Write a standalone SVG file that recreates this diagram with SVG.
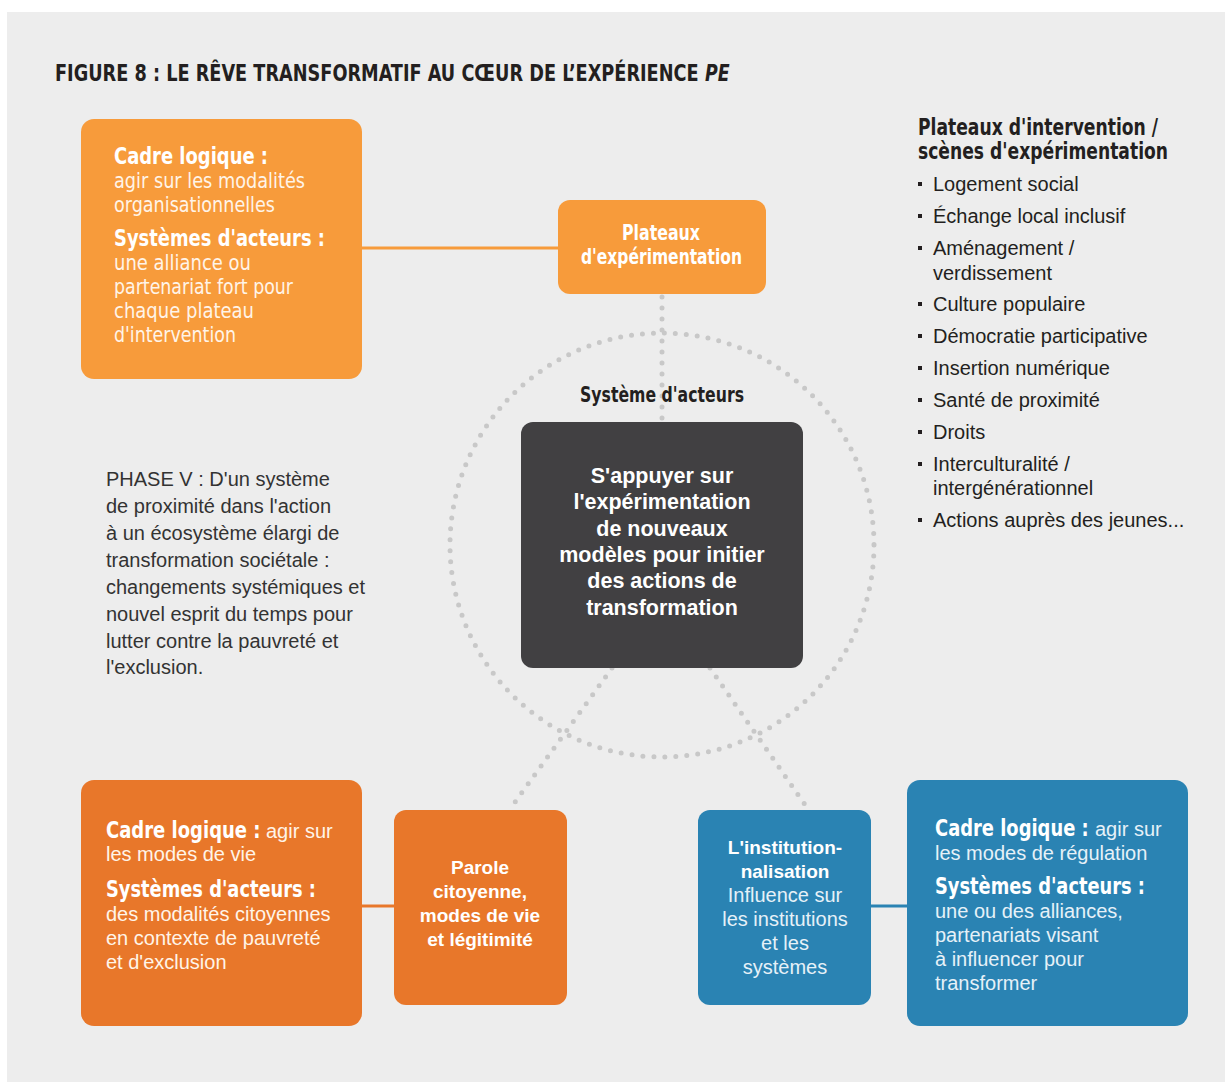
<svg xmlns="http://www.w3.org/2000/svg" width="1225" height="1082" viewBox="0 0 1225 1082">
<style>
.cb{font-family:"Liberation Sans Narrow","DejaVu Sans Condensed",sans-serif;font-weight:bold}
.cr{font-family:"Liberation Sans Narrow","DejaVu Sans Condensed",sans-serif}
.r{font-family:"Liberation Sans",Arial,sans-serif}
.b{font-family:"Liberation Sans",Arial,sans-serif;font-weight:bold}
.w{fill:#ffffff}
.lt{fill:#fff4e8}
.ltb{fill:#e6f1f8}
.dk{fill:#231f20}
.dot{fill:none;stroke:#c8c8c8;stroke-width:5;stroke-linecap:round;stroke-dasharray:0 11}
.link{stroke-width:3}
</style>
<rect x="7" y="12" width="1218" height="1070" fill="#ededed"/>
<g id="title">
  <text class="cb dk" transform="translate(55,81) scale(0.856,1)" x="0" y="0" font-size="23">FIGURE 8 : LE RÊVE TRANSFORMATIF AU CŒUR DE L’EXPÉRIENCE</text>
  <text class="cb dk" transform="translate(705,81) scale(0.84,1)" x="0" y="0" font-size="23" font-style="italic">PE</text>
</g>

<g id="connectors">
  <circle class="dot" cx="662" cy="545" r="212"/>
  <line class="dot" x1="662" y1="297" x2="662" y2="420"/>
  <line class="dot" x1="612" y1="668" x2="510" y2="809"/>
  <line class="dot" x1="710" y1="668" x2="808" y2="809"/>
  <line class="link" x1="362" y1="248" x2="558" y2="248" stroke="#f79b3b"/>
  <line class="link" x1="362" y1="906" x2="394" y2="906" stroke="#e8772a"/>
  <line class="link" x1="871" y1="906" x2="907" y2="906" stroke="#2a83b3"/>
</g>

<g id="cadre-top">
  <rect x="81" y="119" width="281" height="260" rx="13" fill="#f79b3b"/>
  <text class="cb w" x="114" y="164" font-size="23" textLength="154" lengthAdjust="spacingAndGlyphs">Cadre logique :</text>
  <text class="cr lt" x="114" y="188" font-size="21" textLength="191" lengthAdjust="spacingAndGlyphs">agir sur les modalités</text>
  <text class="cr lt" x="114" y="212" font-size="21" textLength="161" lengthAdjust="spacingAndGlyphs">organisationnelles</text>
  <text class="cb w" x="114" y="246" font-size="23" textLength="211" lengthAdjust="spacingAndGlyphs">Systèmes d'acteurs :</text>
  <text class="cr lt" x="114" y="270" font-size="21" textLength="137" lengthAdjust="spacingAndGlyphs">une alliance ou</text>
  <text class="cr lt" x="114" y="294" font-size="21" textLength="179" lengthAdjust="spacingAndGlyphs">partenariat fort pour</text>
  <text class="cr lt" x="114" y="318" font-size="21" textLength="140" lengthAdjust="spacingAndGlyphs">chaque plateau</text>
  <text class="cr lt" x="114" y="342" font-size="21" textLength="122" lengthAdjust="spacingAndGlyphs">d'intervention</text>
</g>

<g id="plateaux">
  <rect x="558" y="200" width="208" height="94" rx="12" fill="#f79b3b"/>
  <text class="cb w" x="622" y="240" font-size="21" textLength="78" lengthAdjust="spacingAndGlyphs">Plateaux</text>
  <text class="cb w" x="581" y="264" font-size="21" textLength="161" lengthAdjust="spacingAndGlyphs">d'expérimentation</text>
</g>

<g id="systeme-label">
  <text class="cb dk" x="580" y="402" font-size="21" textLength="164" lengthAdjust="spacingAndGlyphs">Système d'acteurs</text>
</g>

<g id="centre">
  <rect x="521" y="422" width="282" height="246" rx="12" fill="#414042"/>
  <text class="b w" font-size="21.5" text-anchor="middle"><tspan x="662" y="483">S'appuyer sur</tspan><tspan x="662" y="509">l'expérimentation</tspan><tspan x="662" y="536">de nouveaux</tspan><tspan x="662" y="562">modèles pour initier</tspan><tspan x="662" y="588">des actions de</tspan><tspan x="662" y="615">transformation</tspan></text>
</g>

<g id="phase">
  <text class="r" fill="#333333" font-size="20"><tspan x="106" y="486">PHASE V : D'un système</tspan><tspan x="106" y="513">de proximité dans l'action</tspan><tspan x="106" y="540">à un écosystème élargi de</tspan><tspan x="106" y="567">transformation sociétale :</tspan><tspan x="106" y="594">changements systémiques et</tspan><tspan x="106" y="621">nouvel esprit du temps pour</tspan><tspan x="106" y="648">lutter contre la pauvreté et</tspan><tspan x="106" y="674">l'exclusion.</tspan></text>
</g>

<g id="liste">
  <text class="cb dk" x="918" y="135" font-size="23" textLength="240" lengthAdjust="spacingAndGlyphs">Plateaux d'intervention /</text>
  <text class="cb dk" x="918" y="159" font-size="23" textLength="250" lengthAdjust="spacingAndGlyphs">scènes d'expérimentation</text>
  <g fill="#231f20">
    <rect x="918" y="182" width="4" height="4"/>
    <rect x="918" y="214" width="4" height="4"/>
    <rect x="918" y="246" width="4" height="4"/>
    <rect x="918" y="302" width="4" height="4"/>
    <rect x="918" y="334" width="4" height="4"/>
    <rect x="918" y="366" width="4" height="4"/>
    <rect x="918" y="398" width="4" height="4"/>
    <rect x="918" y="430" width="4" height="4"/>
    <rect x="918" y="462" width="4" height="4"/>
    <rect x="918" y="518" width="4" height="4"/>
  </g>
  <text class="r dk" font-size="20"><tspan x="933" y="191">Logement social</tspan><tspan x="933" y="223">Échange local inclusif</tspan><tspan x="933" y="255">Aménagement /</tspan><tspan x="933" y="280">verdissement</tspan><tspan x="933" y="311">Culture populaire</tspan><tspan x="933" y="343">Démocratie participative</tspan><tspan x="933" y="375">Insertion numérique</tspan><tspan x="933" y="407">Santé de proximité</tspan><tspan x="933" y="439">Droits</tspan><tspan x="933" y="471">Interculturalité /</tspan><tspan x="933" y="495">intergénérationnel</tspan><tspan x="933" y="527">Actions auprès des jeunes...</tspan></text>
</g>

<g id="cadre-vie">
  <rect x="81" y="780" width="281" height="246" rx="13" fill="#e8772a"/>
  <text class="cb w" transform="translate(106,838) scale(0.87,1)" x="0" y="0" font-size="23">Cadre logique :</text>
  <text class="r lt" x="266" y="838" font-size="20">agir sur</text>
  <text class="r lt" x="106" y="861" font-size="20">les modes de vie</text>
  <text class="cb w" x="106" y="897" font-size="23" textLength="210" lengthAdjust="spacingAndGlyphs">Systèmes d'acteurs :</text>
  <text class="r lt" font-size="20"><tspan x="106" y="921">des modalités citoyennes</tspan><tspan x="106" y="945">en contexte de pauvreté</tspan><tspan x="106" y="969">et d'exclusion</tspan></text>
</g>

<g id="parole">
  <rect x="394" y="810" width="173" height="195" rx="12" fill="#e8772a"/>
  <text class="b w" font-size="19" text-anchor="middle"><tspan x="480" y="874">Parole</tspan><tspan x="480" y="898">citoyenne,</tspan><tspan x="480" y="922">modes de vie</tspan><tspan x="480" y="946">et légitimité</tspan></text>
</g>

<g id="institution">
  <rect x="698" y="810" width="173" height="195" rx="12" fill="#2a83b3"/>
  <text class="b w" font-size="19" text-anchor="middle"><tspan x="785" y="854">L'institution-</tspan><tspan x="785" y="878">nalisation</tspan></text>
  <text class="r ltb" font-size="20" text-anchor="middle"><tspan x="785" y="902">Influence sur</tspan><tspan x="785" y="926">les institutions</tspan><tspan x="785" y="950">et les</tspan><tspan x="785" y="974">systèmes</tspan></text>
</g>

<g id="cadre-regulation">
  <rect x="907" y="780" width="281" height="246" rx="13" fill="#2a83b3"/>
  <text class="cb w" transform="translate(935,836) scale(0.865,1)" x="0" y="0" font-size="23">Cadre logique :</text>
  <text class="r ltb" x="1095" y="836" font-size="20">agir sur</text>
  <text class="r ltb" x="935" y="860" font-size="20">les modes de régulation</text>
  <text class="cb w" x="935" y="894" font-size="23" textLength="210" lengthAdjust="spacingAndGlyphs">Systèmes d'acteurs :</text>
  <text class="r ltb" font-size="20"><tspan x="935" y="918">une ou des alliances,</tspan><tspan x="935" y="942">partenariats visant</tspan><tspan x="935" y="966">à influencer pour</tspan><tspan x="935" y="990">transformer</tspan></text>
</g>
</svg>
